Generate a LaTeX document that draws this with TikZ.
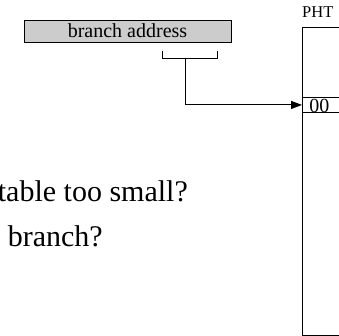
\documentclass[tikz,border=0pt]{standalone}
\usepackage{fontspec}
\setmainfont{Liberation Serif}
\usetikzlibrary{arrows.meta,positioning}

\begin{document}
\begin{tikzpicture}
    [
      x=1pt,y=-1pt,
      field/.style={draw,fill=gray!40,line width=0.9pt,minimum width=207pt,minimum height=22pt,inner sep=0pt,font=\fontsize{20}{24}\selectfont},
      table/.style={draw,line width=0.9pt,anchor=north west,minimum width=60pt,minimum height=308pt,inner sep=0pt},
      entry/.style={draw,line width=0.9pt,anchor=north west,inner xsep=7pt,inner ysep=0pt,text height=15pt,text depth=0pt,text width=53pt,align=left,font=\fontsize{20}{20}\selectfont},
      question/.style={anchor=base east,inner sep=0pt,font=\fontsize{30}{36}\selectfont},
      post/.style={-{Triangle[length=11pt,width=8pt]},line width=0.9pt},
    ]

    \useasboundingbox (0,0) rectangle (339,336);
    \clip (0,0) rectangle (339,336);

    \node (addr) [field] at (127.5,31) {branch address};

    \coordinate (idx-l) at (162,51);
    \coordinate (idx-r) at (217,51);
    \coordinate (idx) at (185,58);

    \draw [line width=0.9pt] (idx-l) -- ++(0,7) -| (idx-r);

    \node (pht) [table] at (302,27) {};
    \node (pht-label) [anchor=base west,inner sep=0pt,font=\fontsize{16.5}{16.5}\selectfont] at (302,18) {PHT};

    \node (row-00) [entry] at (302,97) {00};

    \path (idx) edge [post,to path={|- (\tikztotarget)}] (row-00.west);

    \node (q-size) [question] at (188,201) {table too small?};
    \node (q-branch) [question] at (103,246) {a branch?};

\end{tikzpicture}
\end{document}
